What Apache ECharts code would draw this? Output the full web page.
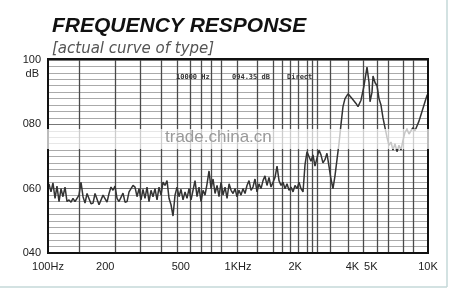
<!DOCTYPE html>
<html><head><meta charset="utf-8">
<script src="https://cdn.jsdelivr.net/npm/echarts@6/dist/echarts.min.js"></script>
<style>html,body{margin:0;padding:0;background:#fff;}#c{width:450px;height:291px;}</style>
</head><body><div id="c"></div>
<script>
// Frequency (Hz) and level (dB)
const freqs = [101.2,103.7,106.2,108.9,111.5,114.3,117.1,119.9,122.9,125.9,129.0,132.2,135.4,138.7,142.1,145.6,149.2,152.9,156.6,160.5,164.4,168.4,172.6,176.8,181.1,185.6,190.1,194.8,199.5,204.5,209.5,214.6,219.9,225.3,230.8,236.5,242.3,248.2,254.3,260.6,267.0,273.5,280.2,287.1,294.1,301.3,308.7,316.2,324.0,332.0,340.1,348.5,357.0,365.8,374.8,384.0,393.4,403.0,412.9,423.1,433.5,444.1,455.0,466.2,477.7,489.4,501.2,513.6,526.2,539.1,552.4,565.9,579.9,594.1,608.7,623.6,638.9,654.6,670.7,687.2,704.0,721.3,739.1,757.2,775.8,794.3,814.3,834.3,854.8,875.8,897.3,919.4,941.8,964.9,988.0,1012,1037,1062,1089,1115,1143,1171,1199,1229,1259,1290,1322,1354,1387,1421,1456,1492,1529,1566,1605,1644,1685,1726,1768,1811,1856,1901,1948,1995,2045,2095,2146,2199,2253,2308,2364,2422,2481,2542,2604,2668,2733,2800,2869,2939,3011,3085,3162,3239,3319,3400,3484,3569,3657,3793,3981,4179,4281,4440,4605,4775,4893,4953,5074,5135,5261,5390,5522,5657,5796,5938,6083,6232,6385,6541,6702,6866,7034,7206,7383,7564,7749,7943,8137,8337,8541,8750,8965,9185,9412,9643,9880,10000];
const levels = [61.5,59.0,61.8,57.0,60.8,56.0,60.0,57.5,60.5,56.0,56.5,55.8,57.0,56.0,56.2,58.0,62.0,57.5,55.5,58.5,58.7,55.3,55.5,58.5,58.7,55.0,55.2,58.0,58.6,55.8,58.5,60.5,59.5,60.8,57.0,56.0,55.5,58.6,55.8,56.0,59.0,58.5,61.0,60.5,57.5,60.0,56.5,59.8,57.0,60.5,56.0,59.5,57.5,60.0,56.5,60.5,58.0,62.0,61.0,62.5,57.0,55.0,51.5,58.0,60.5,57.5,59.8,56.5,59.0,57.0,60.0,56.5,59.5,62.5,57.5,60.5,56.0,59.5,58.0,61.5,65.5,60.0,63.0,58.5,61.0,57.5,62.0,58.0,60.5,57.0,61.5,59.5,58.5,60.0,57.5,59.5,58.0,60.0,58.5,61.0,62.5,59.5,60.5,63.0,59.0,61.5,60.0,62.5,64.0,61.0,63.5,60.5,62.0,63.5,67.0,62.5,61.0,62.0,60.0,61.5,59.5,60.5,59.0,61.0,60.0,62.0,60.0,59.0,67.5,71.5,70.0,68.5,70.5,67.0,69.5,72.0,70.5,68.0,69.0,71.0,67.0,63.0,60.0,64.0,69.0,74.0,80.0,85.5,88.0,89.5,88.0,86.5,85.5,87.5,92.0,97.8,93.0,87.0,90.0,95.0,93.0,92.0,88.0,86.0,82.0,79.0,76.0,73.5,74.5,72.0,74.0,71.5,73.5,72.0,75.0,77.5,78.5,77.0,78.0,79.0,78.0,79.5,81.0,83.0,85.0,87.0,89.0,89.5];
// Vertical grid line frequencies as drawn in the reference
const gridFreqs = [146,225,305,393,477,559,638,721,814,988,1259,1528,1705,1878,2069,2307,2451,2604,3050,3791,4548,5392,6157,7387,8340];
// X tick labels
const xTickValues = [100,200,500,1000,2000,4000,5000,10000];
const xTickLabels = ['100Hz','200','500','1KHz','2K','4K','5K','10K'];
// Y tick labels
const yTickValues = [40,60,80,100];
const yTickLabels = ['040','060','080','100'];

const chart = echarts.init(document.getElementById('c'), null, {renderer:'canvas'});
const font = 'Liberation Sans, Arial, sans-serif';
chart.setOption({
  animation:false,
  backgroundColor:'#fff',
  title:{
    text:'FREQUENCY RESPONSE', subtext:'[actual curve of type]',
    left:47, top:11, itemGap:5,
    textStyle:{fontFamily:font, fontSize:21, fontWeight:'bold', fontStyle:'italic', color:'#111'},
    subtextStyle:{fontFamily:'DejaVu Sans, sans-serif', fontSize:15, fontStyle:'italic', color:'#555'}
  },
  grid:{left:48, right:22, top:60, bottom:38},
  xAxis:{
    type:'log', logBase:10, min:100, max:10000,
    axisLine:{show:true, onZero:false, lineStyle:{color:'#111', width:2}},
    axisTick:{show:false, customValues:gridFreqs},
    axisLabel:{customValues:xTickValues, fontFamily:font, fontSize:11, color:'#222', margin:8,
      formatter:v=>{const i=xTickValues.findIndex(t=>Math.abs(t-v)<1e-6*t+0.5);return i>=0?xTickLabels[i]:'';}},
    splitLine:{show:true, lineStyle:{color:'#4a4a4a', width:1.3}},
    minorTick:{show:false}, minorSplitLine:{show:false}
  },
  yAxis:{
    type:'value', min:40, max:100, interval:20,
    name:'dB', nameLocation:'end', nameGap:-19,
    nameTextStyle:{fontFamily:font, fontSize:11, color:'#222', align:'right', padding:[0,9,0,0]},
    axisLine:{show:true, lineStyle:{color:'#111', width:2}},
    axisTick:{show:false},
    axisLabel:{fontFamily:font, fontSize:11, color:'#222', margin:7,
      formatter:v=>{const i=yTickValues.indexOf(v);return i>=0?yTickLabels[i]:'';}},
    splitLine:{show:true, lineStyle:{color:'#777', width:1}},
    minorTick:{show:false, splitNumber:10},
    minorSplitLine:{show:true, lineStyle:{color:'#aaa', width:1}}
  },
  series:[{
    type:'line', data:freqs.map((f,i)=>[f,levels[i]]), symbol:'none',
    lineStyle:{color:'#333', width:1.5}, z:5
  }],
  graphic:[
    {type:'rect', shape:{x:48, y:59, width:380, height:194}, style:{fill:'none', stroke:'#111', lineWidth:2}, z:10},
    {type:'text', x:176, y:74, style:{text:'10000 Hz', font:'bold 7px DejaVu Sans Mono', fill:'#333'}, z:11},
    {type:'text', x:232, y:74, style:{text:'094.35 dB', font:'bold 7px DejaVu Sans Mono', fill:'#333'}, z:11},
    {type:'text', x:287, y:74, style:{text:'Direct', font:'bold 7px DejaVu Sans Mono', fill:'#333'}, z:11},
    {type:'rect', shape:{x:14, y:129, width:420, height:20}, style:{fill:'rgba(255,255,255,0.72)'}, z:12},
    {type:'text', x:165, y:129, style:{text:'trade.china.cn', font:'17px Liberation Sans', fill:'#9a9a9a'}, z:13},
    {type:'line', shape:{x1:447, y1:0, x2:447, y2:287}, style:{stroke:'#c5d9d9', lineWidth:1.5}, z:1},
    {type:'line', shape:{x1:0, y1:287, x2:447, y2:287}, style:{stroke:'#c5d9d9', lineWidth:1.5}, z:1}
  ]
});
</script></body></html>
